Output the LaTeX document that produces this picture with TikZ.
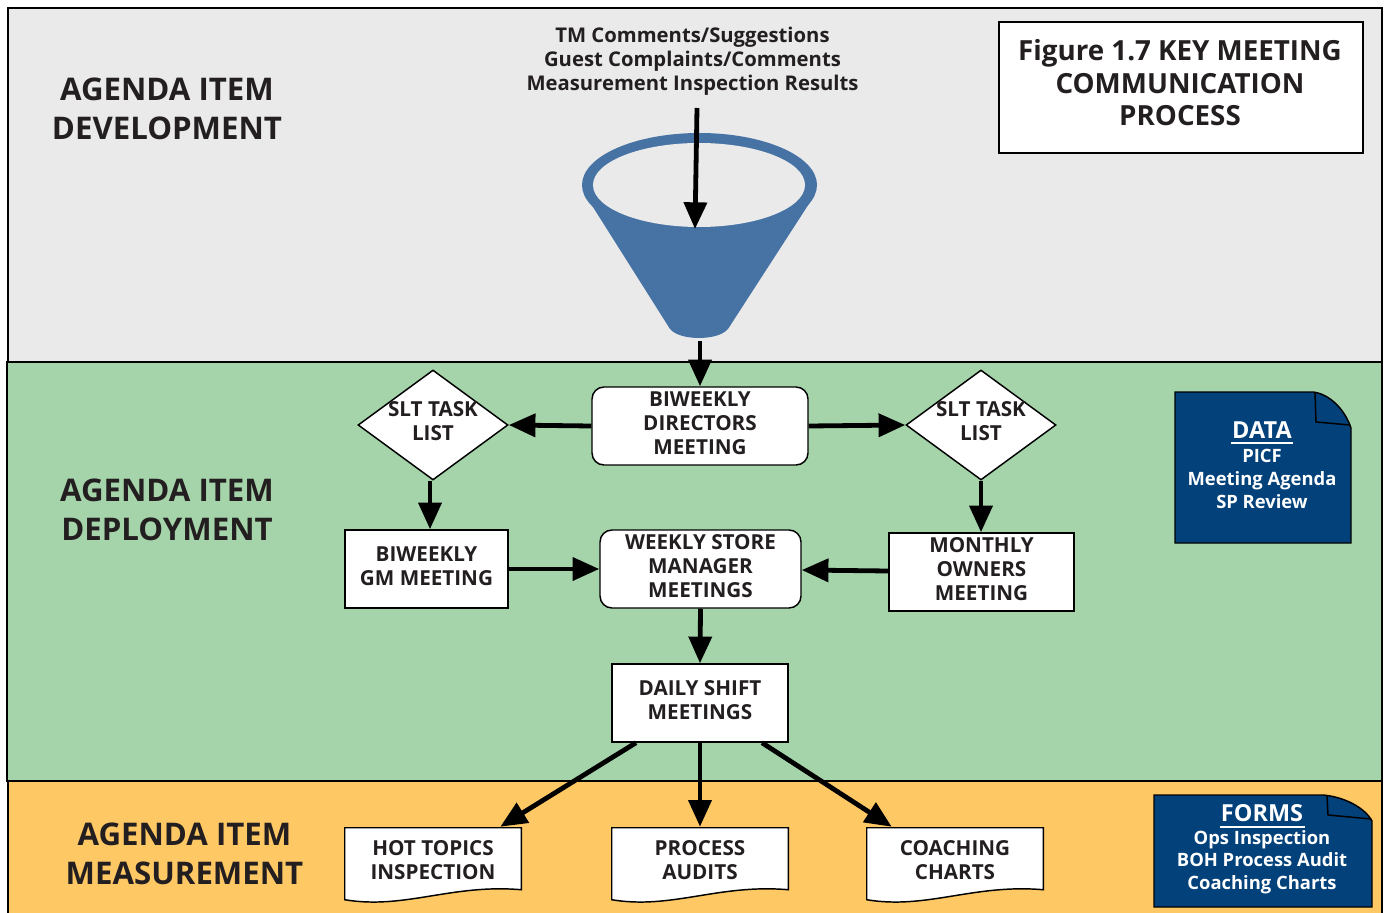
\documentclass[tikz,border=0pt]{standalone}
\usepackage{fontspec}
\setmainfont{Open Sans}
\usetikzlibrary{arrows.meta,shapes.geometric,calc}

\definecolor{ink}{HTML}{231F20}
\definecolor{laneGray}{HTML}{EAEAEA}
\definecolor{laneGreen}{HTML}{A6D4AA}
\definecolor{laneOrange}{HTML}{FEC865}
\definecolor{funnelBlue}{HTML}{4773A4}
\definecolor{navy}{HTML}{02417A}

\newcommand\fsz[2]{\fontsize{#1}{#2}\selectfont}

\begin{document}
\begin{tikzpicture}[x=0.75pt,y=-0.75pt,
  lane/.style={draw=black,line width=1.4pt},
  lanelabel/.style={text=ink,align=center,font=\bfseries\fsz{23.4}{29}},
  box/.style={draw=black,line width=1.1pt,fill=white,align=center,text=ink,
    font=\bfseries\fsz{15.5}{18},inner sep=0pt,text depth=4.5pt},
  roundbox/.style={box,rounded corners=9pt},
  diamondbox/.style={draw=black,line width=1.1pt,fill=white,diamond,inner sep=0pt,
    minimum width=112.5pt,minimum height=82.5pt},
  boxtext/.style={align=center,text=ink,font=\bfseries\fsz{15.5}{18},inner sep=0pt},
  doctext/.style={align=center,text=ink,font=\bfseries\fsz{15.5}{18},inner sep=0pt,
    minimum width=132pt,minimum height=48pt},
  docline/.style={draw=black,line width=1.1pt,fill=white},
  flow/.style={line width=3.6pt,-{Triangle[length=20pt,width=17pt]}},
  tagbox/.style={draw=black,line width=1.1pt,fill=navy},
  taghead/.style={text=white,font=\bfseries\fsz{17.6}{19},inner sep=0pt},
  tagbody/.style={text=white,align=center,font=\bfseries\fsz{13.8}{17},inner sep=0pt}]

\useasboundingbox (0,0) rectangle (1390,913);

% ---- swim lanes ----
\path[lane,fill=laneGray]  (8,8) rectangle (1382,362);
\path[lane,fill=laneGreen] (7,362) rectangle (1382,781);
\path[lane,fill=laneOrange] (8,781) rectangle (1382,930);

\node[lanelabel] (devLabel) at (167,109) {AGENDA ITEM\\DEVELOPMENT};
\node[lanelabel] (depLabel) at (167,510) {AGENDA ITEM\\DEPLOYMENT};
\node[lanelabel] (measLabel) at (184.5,854) {AGENDA ITEM\\MEASUREMENT};

% ---- title ----
\node[draw=black,line width=1.1pt,fill=white,minimum width=273pt,minimum height=98pt,
  inner sep=0pt] (titleBox) at (1181,87.5) {};
\node[align=center,text=ink,font=\bfseries\fsz{20.8}{24.4}] (title) at (1180,83)
  {Figure 1.7 KEY MEETING\\COMMUNICATION\\PROCESS};

% ---- inputs ----
\node[align=center,text=ink,font=\bfseries\fsz{15.2}{18}] (inputs) at (692.5,61)
  {TM Comments/Suggestions\\Guest Complaints/Comments\\Measurement Inspection Results};

% ---- funnel ----
\fill[funnelBlue] (586,196) -- (670,329)
  .. controls (680,341) and (718,341) .. (728,329) -- (814,196) -- cycle;
\fill[funnelBlue] (699.5,185) ellipse [x radius=117.5, y radius=52];
\fill[laneGray] (699,185) ellipse [x radius=106, y radius=42];
\coordinate (inputTop) at (697,108);
\coordinate (funnelMouth) at (695,229);
\coordinate (funnelOut) at (700,341);
\draw[flow] (inputTop) -- (funnelMouth);

% ---- deployment flow ----
\node[roundbox,minimum width=162pt,minimum height=58.5pt] (directors) at (700,426)
  {BIWEEKLY\\DIRECTORS\\MEETING};
\node[diamondbox] (sltL) at (433,425) {};
\node[boxtext] (sltLtext) at (433,421) {SLT TASK\\LIST};
\node[diamondbox] (sltR) at (981,425) {};
\node[boxtext] (sltRtext) at (981,421) {SLT TASK\\LIST};
\node[box,minimum width=122.25pt,minimum height=58.5pt] (gm) at (426.5,569)
  {BIWEEKLY\\GM MEETING};
\node[roundbox,minimum width=150.75pt,minimum height=58.5pt] (weekly) at (700.5,569)
  {WEEKLY STORE\\MANAGER\\MEETINGS};
\node[box,minimum width=138.75pt,minimum height=58.5pt] (monthly) at (981.5,572)
  {MONTHLY\\OWNERS\\MEETING};
\node[box,minimum width=132pt,minimum height=58.5pt] (daily) at (700,703)
  {DAILY SHIFT\\MEETINGS};

\draw[flow] (funnelOut) -- (directors.north);
\draw[flow] (directors.west) -- (sltL.east);
\draw[flow] (directors.east) -- (sltR.west);
\draw[flow] ($(sltL.south)+(-3,0)$) -- ($(gm.north)+(3.5,0)$);
\draw[flow] (sltR.south) -- ($(monthly.north)+(-0.5,0)$);
\draw[flow] (gm.east) -- (weekly.west);
\draw[flow] ($(monthly.west)+(0,-1)$) -- ($(weekly.east)+(0,1)$);
\draw[flow] (weekly.south) -- (daily.north);

% ---- measurement documents ----
\node[doctext] (hot) at (433,860) {};
\node[doctext] (audits) at (700,860) {};
\node[doctext] (coaching) at (955,860) {};
\foreach \d in {hot,audits,coaching}{
  \path[docline] (\d.north west) -- (\d.north east)
    -- ($(\d.north east)+(0,62)$)
    .. controls ($(\d.north east)+(-70,56)$) and ($(\d.north west)+(60,82)$)
    .. ($(\d.north west)+(0,72)$) -- cycle;
}
\node[doctext] at (hot) {HOT TOPICS\\INSPECTION};
\node[doctext] at (audits) {PROCESS\\AUDITS};
\node[doctext] at (coaching) {COACHING\\CHARTS};

\draw[flow] ($(daily.south)+(-64,0)$) -- ($(hot.north east)+(-21,-1)$);
\draw[flow] (daily.south) -- ($(audits.north)+(0,-1)$);
\draw[flow] ($(daily.south)+(62,0)$) -- ($(coaching.north west)+(25,-1)$);

% ---- data tag ----
\path[tagbox] (1175,392) -- (1313,392) .. controls (1330,394) and (1345,410) .. (1351,428)
  -- (1351,543) -- (1175,543) -- cycle;
\draw[line width=1.1pt] (1315,393) -- (1316,422) -- (1350,425);
\node[taghead] (dataHead) at (1262,430) {DATA};
\draw[white,line width=1.4pt] (1231,443) -- (1293,443);
\node[tagbody] (dataBody) at (1262,479) {PICF\\Meeting Agenda\\SP Review};

% ---- forms tag ----
\path[tagbox] (1154,795) -- (1323,795) .. controls (1345,797) and (1365,808) .. (1372,821)
  -- (1372,907) -- (1154,907) -- cycle;
\draw[line width=1.1pt] (1327,796) -- (1328,815) -- (1371,819);
\node[taghead] (formsHead) at (1262,813) {FORMS};
\draw[white,line width=1.4pt] (1220,827) -- (1305,827);
\node[tagbody] (formsBody) at (1262,862) {Ops Inspection\\BOH Process Audit\\Coaching Charts};

\end{tikzpicture}
\end{document}
